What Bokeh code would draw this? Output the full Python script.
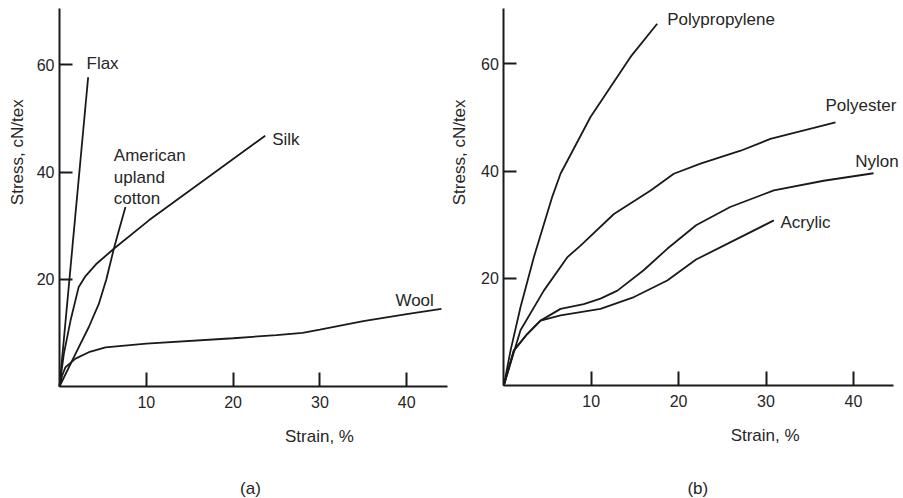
from bokeh.plotting import figure
from bokeh.models import Range1d, Label, FixedTicker, LinearAxis
from bokeh.layouts import row
from bokeh.embed import file_html
from bokeh.resources import INLINE
import math

# ---------------- data (strain %, stress cN/tex) ----------------
flax_x = [0, 3.3]
flax_y = [0, 57.7]

silk_x = [0, 0.5, 1.27, 2.2, 3.0, 4.2, 6.26, 10.3, 23.7]
silk_y = [0, 6.1, 12.3, 18.5, 20.6, 22.8, 25.7, 31.0, 46.8]

cotton_x = [0, 1.84, 3.38, 4.53, 5.4, 6.26, 6.84, 7.6]
cotton_y = [0, 6.1, 11.1, 15.4, 20.0, 25.7, 29.1, 33.5]

wool_x = [0, 0.3, 0.69, 1.84, 3.38, 5.3, 10.0, 20.0, 25.0, 28.0, 30.0, 35.0, 40.0, 44.0]
wool_y = [0, 2.0, 3.6, 5.2, 6.4, 7.3, 8.0, 9.0, 9.6, 10.0, 10.6, 12.2, 13.5, 14.5]

pp_x = [0, 0.77, 1.91, 3.43, 5.5, 6.49, 9.92, 14.5, 17.55]
pp_y = [0, 6.5, 14.6, 23.9, 35.0, 39.5, 50.1, 61.3, 67.5]

pet_x = [0, 1.91, 4.58, 7.25, 8.78, 12.6, 16.8, 19.45, 22.5, 27.1, 30.5, 37.95]
pet_y = [0, 10.3, 17.7, 23.9, 26.1, 32.0, 36.4, 39.5, 41.4, 43.8, 46.0, 49.1]

nylon_x = [0, 1.14, 2.68, 4.2, 6.49, 9.15, 11.06, 13.0, 16.0, 18.7, 22.0, 25.9, 30.9, 36.6, 42.3]
nylon_y = [0, 6.5, 9.6, 12.1, 14.3, 15.2, 16.2, 17.7, 21.5, 25.5, 29.9, 33.3, 36.4, 38.2, 39.6]

acrylic_x = [0, 1.14, 2.68, 4.2, 6.49, 11.06, 14.9, 18.7, 22.0, 25.9, 30.9]
acrylic_y = [0, 6.5, 9.6, 12.1, 13.1, 14.3, 16.5, 19.6, 23.5, 26.7, 30.8]

x_ticks = [10, 20, 30, 40]
y_ticks = [20, 40, 60]

FONT = "Liberation Sans"
TXT = "#262626"
LINE = "#1a1a1a"
DY = 0.95  # label baseline correction (data units)


def panel(w, h, xr, yr, xb, yb):
    p = figure(width=w, height=h, min_border=0,
               x_range=Range1d(*xr), y_range=Range1d(*yr),
               x_axis_location=None, y_axis_location=None,
               toolbar_location=None, output_backend="svg",
               background_fill_color="white", border_fill_color="white")
    p.outline_line_color = None
    p.grid.visible = False
    xa = LinearAxis(fixed_location=0, bounds=xb, ticker=FixedTicker(ticks=x_ticks))
    ya = LinearAxis(fixed_location=0, bounds=yb, ticker=FixedTicker(ticks=y_ticks))
    for ax, standoff in ((xa, 9), (ya, 5)):
        ax.axis_line_width = 2
        ax.axis_line_color = LINE
        ax.major_tick_line_width = 2
        ax.major_tick_line_color = LINE
        ax.major_tick_out = 0
        ax.minor_tick_line_color = None
        ax.major_label_text_font = FONT
        ax.major_label_text_font_size = "16px"
        ax.major_label_text_color = TXT
        ax.major_label_standoff = standoff
    xa.major_tick_in = 14
    ya.major_tick_in = 13
    p.add_layout(xa, "below")
    p.add_layout(ya, "left")
    return p


def lab(p, x, y, t, align="left", baseline="alphabetic", angle=0.0, dy=DY):
    p.add_layout(Label(x=x, y=y + dy, text=t, text_font=FONT, text_font_size="17px",
                       text_color=TXT, text_align=align, text_baseline=baseline,
                       angle=angle))


H = 498

# ---------------- panel (a) ----------------
pa = panel(451, H, (-59 / 8.68, (451 - 59) / 8.68), ((386 - H) / 5.36, 386 / 5.36),
           (0, 44.67), (0, 70.5))
for xs, ys in ((flax_x, flax_y), (silk_x, silk_y), (cotton_x, cotton_y), (wool_x, wool_y)):
    pa.line(xs, ys, line_color=LINE, line_width=1.8)
lab(pa, 3.11, 59.3, "Flax")
lab(pa, 24.5, 45.1, "Silk")
lab(pa, 6.26, 42.2, "American")
lab(pa, 6.26, 38.1, "upland")
lab(pa, 6.26, 34.1, "cotton")
lab(pa, 38.7, 15.1, "Wool")
lab(pa, 29.95, -9.94, "Strain, %", align="center", dy=0.6)
lab(pa, 22.0, -19.6, "(a)", align="center", dy=0.6)
lab(pa, -4.84, 43.7, "Stress, cN/tex", align="center", baseline="middle", angle=math.pi / 2, dy=0)

# ---------------- panel (b) ----------------
pb = panel(450, H, ((451 - 503.3) / 8.74, (901 - 503.3) / 8.74), ((385 - H) / 5.36, 385 / 5.36),
           (0, 44.6), (0, 70.3))
for xs, ys in ((pp_x, pp_y), (pet_x, pet_y), (nylon_x, nylon_y), (acrylic_x, acrylic_y)):
    pb.line(xs, ys, line_color=LINE, line_width=1.8)
lab(pb, 18.7, 67.35, "Polypropylene")
lab(pb, 36.8, 51.2, "Polyester")
lab(pb, 40.2, 40.9, "Nylon")
lab(pb, 31.65, 29.4, "Acrylic")
lab(pb, 29.9, -9.94, "Strain, %", align="center", dy=0.6)
lab(pb, 22.2, -19.8, "(b)", align="center", dy=0.6)
lab(pb, -5.07, 43.5, "Stress, cN/tex", align="center", baseline="middle", angle=math.pi / 2, dy=0)

layout = row(pa, pb)
open("out.html", "w").write(file_html(layout, INLINE))
